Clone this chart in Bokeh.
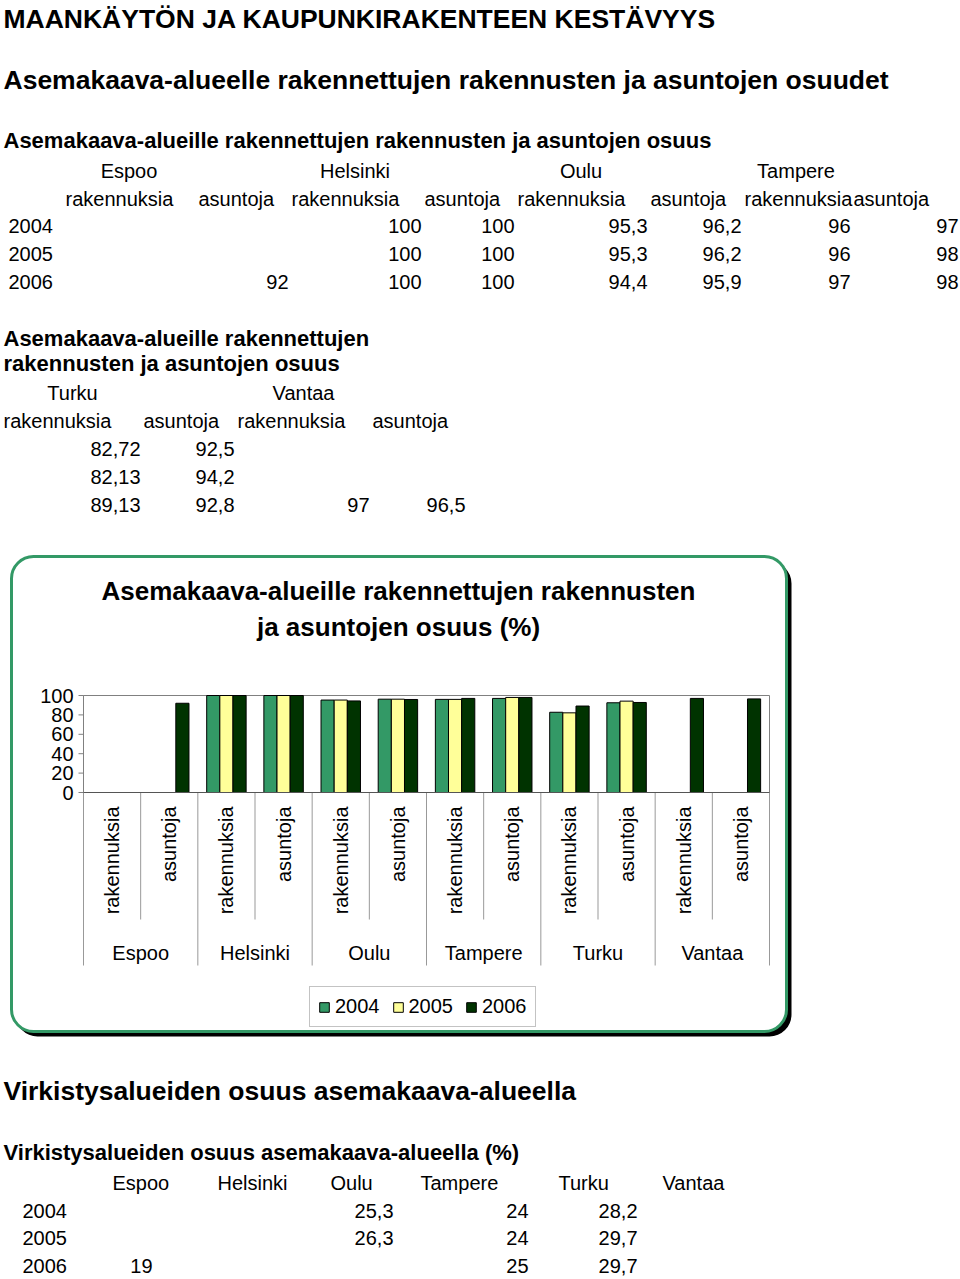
import math
from bokeh.plotting import figure
from bokeh.models import Range1d, Legend, LegendItem, ColumnDataSource
from bokeh.transform import dodge
from bokeh.core.properties import value
from bokeh.embed import file_html
from bokeh.resources import INLINE

nan = float("nan")

# ---------------- data ----------------
cities = ["Espoo", "Helsinki", "Oulu", "Tampere", "Turku", "Vantaa"]
kinds = ["rakennuksia", "asuntoja"]
years = ["2004", "2005", "2006"]
# order: Espoo rak, Espoo as, Helsinki rak, Helsinki as, ..., Vantaa rak, Vantaa as
share_2004 = [nan, nan, 100, 100, 95.3, 96.2, 96, 97, 82.72, 92.5, nan, nan]
share_2005 = [nan, nan, 100, 100, 95.3, 96.2, 96, 98, 82.13, 94.2, nan, nan]
share_2006 = [nan, 92, 100, 100, 94.4, 95.9, 97, 98, 89.13, 92.8, 97, 96.5]
y_ticks = [0, 20, 40, 60, 80, 100]

# recreation areas share of detailed plan area (%)
rec_2004 = [nan, nan, 25.3, 24, 28.2, nan]
rec_2005 = [nan, nan, 26.3, 24, 29.7, nan]
rec_2006 = [19, nan, nan, 25, 29.7, nan]

colors = ["#339966", "#FFFF99", "#003300"]
FONT = "Liberation Sans"
W, H = 960, 1279


def fmt(v):
    return ("%g" % v).replace(".", ",")


# ---------------- chart placement on the page ----------------
factors = [(c, k) for c in cities for k in kinds]
N = len(factors)
X0, X1 = 83, 769        # plot area left / right (page px)
Y0, Y100 = 792, 695     # value 0 / value 100 (page px)
SLOT = (X1 - X0) / N    # px per category slot
PX = (Y0 - Y100) / 100  # px per percent

p = figure(width=W, height=H, x_range=Range1d(0, W), y_range=Range1d(H, 0),
           x_axis_location=None, y_axis_location=None,
           output_backend="svg", toolbar_location=None,
           min_border=0, min_border_left=0, min_border_right=0,
           min_border_top=0, min_border_bottom=0,
           background_fill_color="white", border_fill_color="white")
p.outline_line_color = None
p.xgrid.visible = False
p.ygrid.visible = False
p.extra_x_ranges = {"cat": Range1d(-X0 / SLOT, N + (W - X1) / SLOT)}
p.extra_y_ranges = {"pct": Range1d(-(H - Y0) / PX, 100 + Y100 / PX)}
C = dict(x_range_name="cat", y_range_name="pct")


def add_text(x, y, text, size=20, bold=False, align="left", **kw):
    xs = x if isinstance(x, list) else [x]
    ys = y if isinstance(y, list) else [y]
    ts = text if isinstance(text, list) else [text]
    p.text(x=xs, y=ys, text=ts, text_font=value(FONT),
           text_font_size=value(f"{size}px"),
           text_font_style="bold" if bold else "normal",
           text_align=align, text_baseline="middle", text_color="black", **kw)


# =============== top part (tables) ===============
add_text(3, 18, "MAANKÄYTÖN JA KAUPUNKIRAKENTEEN KESTÄVYYS", 26.5, True)
add_text(3, 79, "Asemakaava-alueelle rakennettujen rakennusten ja asuntojen osuudet", 26.5, True)
add_text(3, 140, "Asemakaava-alueille rakennettujen rakennusten ja asuntojen osuus", 22, True)

edges1 = [62, 195, 288, 421, 514, 647, 741, 850, 958]
for i, c in enumerate(cities[:4]):
    add_text((edges1[2 * i] + edges1[2 * i + 1]) / 2, 170, c, align="center")
for j in range(8):
    add_text(edges1[j] + 3, 198, kinds[j % 2])
for yr, vals, yy in zip(years, [share_2004, share_2005, share_2006], [225, 253, 281]):
    add_text(8, yy, yr)
    for j in range(8):
        if vals[j] == vals[j]:
            add_text(edges1[j + 1], yy, fmt(vals[j]), align="right")

add_text(3, 338, "Asemakaava-alueille rakennettujen", 22, True)
add_text(3, 363, "rakennusten ja asuntojen osuus", 22, True)
edges2 = [0, 140, 234, 369, 465]
add_text(72, 392, cities[4], align="center")
add_text(303, 392, cities[5], align="center")
for j in range(4):
    add_text(edges2[j] + 3, 420, kinds[j % 2])
for vals, yy in zip([share_2004, share_2005, share_2006], [448, 476, 504]):
    for j in range(4):
        v = vals[8 + j]
        if v == v:
            add_text(edges2[j + 1], yy, fmt(v), align="right")

# =============== chart ===============
# rounded frame with a dark shadow
p.quad(left=[15], right=[791], top=[561], bottom=[1036], fill_color="black",
       line_color=None, border_radius=22)
p.quad(left=[11], right=[786], top=[556], bottom=[1031], fill_color="white",
       line_color="#339966", line_width=3, border_radius=22)

add_text(398, 590, "Asemakaava-alueille rakennettujen rakennusten", 26, True, "center")
add_text(398, 626, "ja asuntojen osuus (%)", 26, True, "center")

# plot area border
p.quad(left=[0], right=[N], bottom=[0], top=[100], fill_color=None,
       line_color="#808080", line_width=1, **C)

pos = [i + 0.5 for i in range(N)]
src = ColumnDataSource(dict(x=pos, y04=share_2004, y05=share_2005, y06=share_2006))
bw = 0.23
rs = []
for off, col, c in zip([-bw, 0, bw], ["y04", "y05", "y06"], colors):
    r = p.vbar(x=dodge("x", off), top=col, width=bw, source=src,
               fill_color=c, line_color="black", line_width=1, **C)
    rs.append(r)

# value axis
p.segment(x0=[0], y0=[0], x1=[0], y1=[100], line_color="#808080", line_width=1, **C)
p.segment(x0=[-5 / SLOT] * len(y_ticks), y0=y_ticks, x1=[0] * len(y_ticks), y1=y_ticks,
          line_color="#808080", line_width=1, **C)
add_text([-10 / SLOT] * len(y_ticks), y_ticks, [str(t) for t in y_ticks], 20,
         align="right", **C)

# category axis: separators, sub labels, group labels
bounds = list(range(N + 1))
sep_end = [-(173 if b % 2 == 0 else 127) / PX for b in bounds]
p.segment(x0=bounds, y0=[0] * len(bounds), x1=bounds, y1=sep_end,
          line_color="#999999", line_width=1, **C)
p.segment(x0=[0], y0=[0], x1=[N], y1=[0], line_color="#555555", line_width=1, **C)
p.text(x=pos, y=[-14 / PX] * N, text=[f[1] for f in factors], angle=math.pi / 2,
       text_font=value(FONT), text_font_size=value("20px"), text_align="right",
       text_baseline="middle", text_color="black", **C)
gpos = [2 * i + 1 for i in range(len(cities))]
add_text(gpos, [-160 / PX] * len(cities), cities, 20, align="center", **C)

legend = Legend(items=[LegendItem(label=y, renderers=[r]) for y, r in zip(years, rs)],
                orientation="horizontal", location=(309, H - 1027),
                glyph_width=12, glyph_height=12, label_text_font=FONT,
                label_text_font_size="20px", label_text_color="black",
                label_standoff=5, spacing=12, padding=8, margin=0, label_height=22,
                border_line_color="#888888", border_line_width=1.5,
                background_fill_color="white", background_fill_alpha=1)
p.add_layout(legend)

# =============== bottom part ===============
B = 1040
add_text(3, B + 50, "Virkistysalueiden osuus asemakaava-alueella", 26.5, True)
add_text(3, B + 112, "Virkistysalueiden osuus asemakaava-alueella (%)", 22, True)
head3 = [112, 217, 330, 420, 558, 662]
right3 = [152, 270, 393, 528, 637, 745]
for c, hx in zip(cities, head3):
    add_text(hx, B + 142, c)
for yr, vals, yy in zip(years, [rec_2004, rec_2005, rec_2006], [170, 197, 225]):
    add_text(22, B + yy, yr)
    for v, rx in zip(vals, right3):
        if v == v:
            add_text(rx, B + yy, fmt(v), align="right")

open("out.html", "w").write(file_html(p, INLINE))
